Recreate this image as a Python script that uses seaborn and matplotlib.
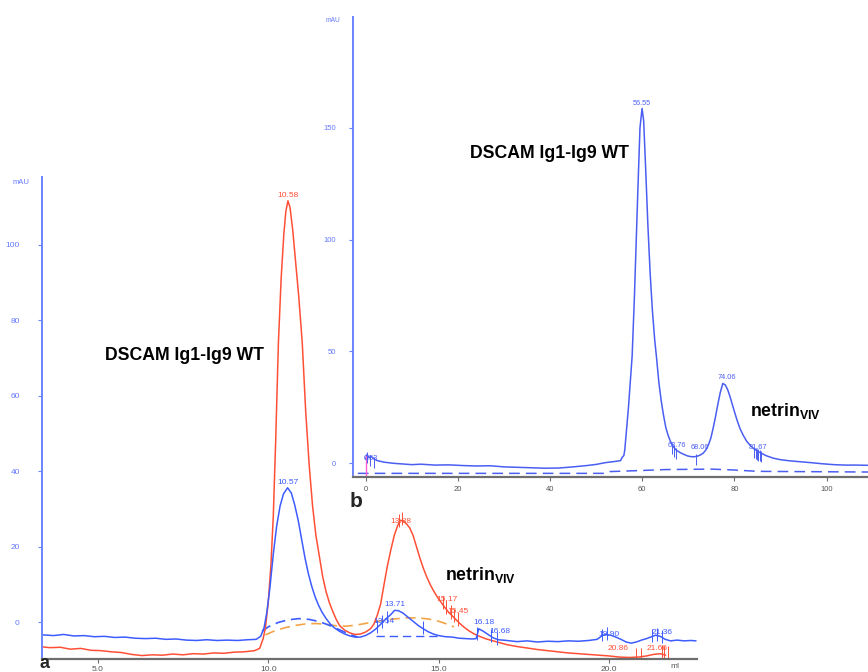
import numpy as np
import pandas as pd
import matplotlib
matplotlib.use("Agg")
import matplotlib.pyplot as plt
import seaborn as sns

# ---------------------------------------------------------------- data
# Panel a: Superdex elution, x = elution volume (ml), y = A280 (mAU)
red_ml = [3.37, 3.6, 3.9, 4.2, 4.5, 4.8, 5.1, 5.4, 5.7, 6.0, 6.3, 6.6, 6.9, 7.2,
          7.5, 7.8, 8.1, 8.4, 8.7, 9.0, 9.3, 9.6, 9.75, 9.85, 9.92, 10.0, 10.08,
          10.15, 10.22, 10.3, 10.38, 10.46, 10.52, 10.58, 10.64, 10.72, 10.8,
          10.9, 11.0, 11.1, 11.2, 11.3, 11.4, 11.5, 11.6, 11.7, 11.8, 11.9, 12.0,
          12.1, 12.25, 12.4, 12.55, 12.7, 12.85, 13.0, 13.1, 13.2, 13.3, 13.4,
          13.5, 13.6, 13.7, 13.8, 13.88, 13.97, 14.06, 14.15, 14.25, 14.35,
          14.45, 14.55, 14.65, 14.75, 14.85, 14.95, 15.05, 15.17, 15.3, 15.45,
          15.6, 15.75, 15.9, 16.05, 16.2, 16.4, 16.6, 16.8, 17.0, 17.3, 17.6,
          17.9, 18.2, 18.5, 18.8, 19.1, 19.4, 19.7, 20.0, 20.3, 20.6, 20.86,
          21.1, 21.3, 21.5, 21.66]
red_mau = [-6.6, -6.8, -6.7, -7.2, -7.0, -7.5, -7.6, -7.9, -8.1, -8.6, -8.9,
           -8.7, -8.8, -8.5, -8.7, -8.4, -8.5, -8.2, -8.3, -8.0, -7.9, -7.6,
           -7.0, -4.5, -1.5, 5.0, 15.0, 28.0, 48.0, 74.0, 91.0, 103.0, 109.0,
           111.7, 110.0, 104.0, 96.0, 86.0, 74.0, 56.0, 42.0, 31.0, 23.0, 17.5,
           12.0, 8.0, 5.0, 2.7, 0.6, -1.0, -2.2, -2.9, -3.3, -3.2, -2.7, -1.8,
           -0.6, 1.8, 4.8, 10.0, 15.0, 19.2, 23.0, 25.6, 27.0, 26.7, 26.0, 25.0,
           23.0, 20.0, 17.0, 14.3, 12.0, 10.0, 8.3, 6.8, 5.5, 4.0, 2.5, 1.2,
           -0.2, -1.4, -2.4, -3.2, -3.8, -4.5, -5.0, -5.5, -6.0, -6.5, -6.9,
           -7.3, -7.6, -7.9, -8.2, -8.4, -8.6, -8.8, -9.0, -9.3, -9.4, -9.3,
           -9.0, -8.6, -8.4, -8.8]

blue_ml = [3.37, 3.7, 4.0, 4.3, 4.6, 4.9, 5.2, 5.5, 5.8, 6.1, 6.4, 6.7, 7.0,
           7.3, 7.6, 7.9, 8.2, 8.5, 8.8, 9.1, 9.4, 9.65, 9.78, 9.88, 9.96,
           10.05, 10.15, 10.25, 10.35, 10.45, 10.57, 10.68, 10.78, 10.88,
           10.98, 11.08, 11.18, 11.28, 11.38, 11.48, 11.58, 11.7, 11.82, 11.95,
           12.1, 12.25, 12.4, 12.55, 12.7, 12.85, 13.0, 13.15, 13.3, 13.45,
           13.6, 13.71, 13.82, 13.95, 14.1, 14.25, 14.4, 14.55, 14.7, 14.85,
           15.0, 15.2, 15.4, 15.6, 15.8, 16.0, 16.1, 16.18, 16.3, 16.45, 16.6,
           16.75, 17.0, 17.3, 17.6, 17.9, 18.2, 18.5, 18.8, 19.1, 19.4, 19.65,
           19.8, 19.9, 20.05, 20.2, 20.35, 20.5, 20.65, 20.8, 20.95, 21.1,
           21.25, 21.36, 21.5, 21.65, 21.8, 22.0, 22.2, 22.4, 22.55]
blue_mau = [-3.4, -3.6, -3.3, -3.7, -3.6, -3.9, -3.8, -4.1, -4.0, -4.3, -4.4,
            -4.3, -4.6, -4.5, -4.8, -4.9, -4.7, -4.9, -4.8, -4.9, -4.7, -4.6,
            -3.8, -1.5, 2.5, 9.0, 18.0, 25.5, 30.8, 34.0, 35.6, 34.2, 31.0,
            27.0, 22.0, 17.0, 12.8, 9.4, 6.6, 4.4, 2.6, 0.9, -0.5, -1.6, -2.5,
            -3.2, -3.7, -4.0, -4.0, -3.6, -2.9, -1.9, -0.6, 0.8, 2.0, 3.1, 3.0,
            2.4, 1.3, 0.2, -0.9, -1.8, -2.6, -3.2, -3.6, -3.9, -4.0, -4.3, -4.4,
            -4.5, -4.4, -1.8, -2.4, -3.3, -4.2, -4.7, -4.9, -5.2, -5.0, -5.3,
            -5.1, -5.2, -5.0, -5.1, -4.9, -4.6, -3.6, -3.3, -3.5, -4.0, -4.6,
            -5.3, -5.6, -5.3, -4.8, -4.4, -3.9, -3.5, -3.8, -4.6, -5.0, -4.8,
            -5.0, -4.9, -5.0]

# integration baselines (dashed)
orange_base_ml = [9.92, 10.2, 10.5, 10.8, 11.1, 11.4, 11.7, 12.0, 12.3, 12.6,
                  12.9, 13.2, 13.5, 13.8, 14.1, 14.4, 14.7, 15.0, 15.2, 15.45]
orange_base_mau = [-3.4, -2.3, -1.5, -0.9, -0.5, -0.4, -0.6, -1.0, -1.1, -0.8,
                   -0.3, 0.2, 0.6, 0.9, 1.1, 1.1, 0.8, 0.2, -0.4, -1.3]
blue_base1_ml = [9.82, 10.0, 10.3, 10.6, 10.9, 11.2, 11.5, 11.8, 12.1, 12.4, 12.62]
blue_base1_mau = [-2.5, -1.3, -0.1, 0.6, 0.9, 0.7, 0.1, -0.9, -2.1, -3.3, -4.0]
blue_base2_ml = [13.15, 14.95]
blue_base2_mau = [-3.6, -3.6]

# peak table labels
red_peaks = [10.58, 13.88, 15.17, 15.45, 20.86, 21.66]
blue_peaks = [10.57, 13.54, 13.71, 16.18, 16.68, 19.90, 21.36]
# fraction marks
red_marks = [13.84, 13.93, 15.12, 15.22, 15.36, 15.46, 15.56, 20.80, 20.95,
             21.55, 21.62, 21.72]
blue_marks = [13.2, 13.34, 13.48, 14.55, 16.13, 16.55, 16.72, 19.78, 19.95,
              21.25, 21.42, 21.55]

a_yticks = [0, 20, 40, 60, 80, 100]
a_xticks = [5.0, 10.0, 15.0, 20.0]

# Panel b: preparative run, x = elution volume (ml), y = A280 (mAU)
b_ml = [-3.4, -3.1, -2.7, -2.2, -1.6, -0.9, 0.6, 2.6, 4.6, 6.6, 8.6, 11.6,
        14.6, 17.6, 20.6, 23.6, 26.6, 29.6, 32.6, 35.6, 38.6, 41.6, 44.6,
        46.6, 48.6, 50.6, 51.9, 52.2, 52.6, 52.8, 53.6, 54.4, 54.9, 55.4,
        55.8, 56.1, 56.55, 56.9, 57.4, 57.8, 58.3, 58.8, 59.3, 59.7, 60.2,
        60.7, 61.2, 61.7, 62.2, 62.7, 63.3, 64.0, 64.8, 65.6, 66.4, 67.1,
        67.7, 68.4, 69.1, 69.8, 70.4, 71.0, 71.5, 72.0, 72.5, 73.0, 73.5,
        74.06, 74.6, 75.1, 75.6, 76.1, 76.6, 77.2, 77.8, 78.5, 79.2, 80.0,
        80.8, 81.6, 82.6, 83.6, 85.0, 86.6, 88.6, 90.8, 93.1, 95.6, 98.1,
        100.6, 103.1, 105.6]
b_mau = [2.0, 4.0, 2.5, 3.0, 2.0, 1.2, 0.5, 0.0, -0.3, -0.6, -0.4, -0.8, -0.7,
         -1.0, -1.2, -1.1, -1.6, -1.8, -2.0, -2.2, -2.1, -1.6, -1.0, -0.5, 0.3,
         0.8, 1.2, 2.6, 3.5, 6.0, 25.0, 48.0, 75.0, 107.0, 132.0, 150.0, 158.6,
         153.0, 128.0, 107.0, 85.0, 68.0, 55.0, 47.0, 36.0, 28.0, 21.5, 16.0,
         12.5, 9.8, 7.5, 5.8, 4.8, 4.0, 3.3, 3.0, 2.9, 3.1, 3.6, 4.5, 6.0, 8.5,
         11.5, 16.0, 21.0, 26.5, 31.5, 35.7, 35.0, 33.0, 30.0, 26.5, 23.0,
         19.0, 15.5, 12.5, 10.0, 8.0, 6.5, 5.4, 4.3, 3.3, 2.3, 1.6, 1.1, 0.7,
         0.3, -0.2, -0.6, -0.8, -0.8, -0.9]
b_base_ml = [-5.1, 48.6, 49.6, 56.6, 61.6, 71.6, 76.6, 81.6, 105.6]
b_base_mau = [-4.5, -4.5, -3.7, -3.2, -2.8, -2.6, -3.0, -3.6, -3.9]
b_peaks = [0.53, 56.55, 63.76, 68.06, 74.06, 81.67]
b_marks = [-3.1, -2.5, -1.6, 63.1, 63.5, 63.9, 68.2, 80.9, 81.2, 81.5, 81.8,
           82.1, 82.4]
b_yticks = [0, 50, 100, 150]
b_xticks = [0, 20, 40, 60, 80, 100]
DEAD_VOL = 3.4          # ml between injection mark and peak-table volumes
inject_at = 0.0         # injection mark on the run axis
inject_top = 3.7

# ---------------------------------------------------------------- style
sns.set_theme(style="white")
plt.rcParams["font.family"] = ["Liberation Sans", "DejaVu Sans"]
plt.rcParams["mathtext.fontset"] = "custom"
plt.rcParams["mathtext.rm"] = "Liberation Sans"
plt.rcParams["mathtext.bf"] = "Liberation Sans:bold"
plt.rcParams["mathtext.it"] = "Liberation Sans:italic"

RED = "#ff5036"
BLUE = "#3d5cff"
ORANGE = "#f4a448"
BLUE_B = "#4a5ef2"
SPINE_BLUE = "#6a84ff"
TICK_BLUE = "#6478ff"
GRAY = "#6e6e6e"
PINK = "#ff5fd0"

W, H = 868, 672
fig = plt.figure(figsize=(W / 100, H / 100), dpi=100)
fig.patch.set_facecolor("white")


def box(x0, y0, x1, y1):
    return [x0 / W, 1 - y1 / H, (x1 - x0) / W, (y1 - y0) / H]


def fx(px):
    return px / W


def fy(py):
    return 1 - py / H


ax_a = fig.add_axes(box(42, 176.7, 697, 659))
ax_b = fig.add_axes(box(352.7, 16.7, 868, 476.7))
ax_b.set_zorder(3)
ax_b.set_facecolor("white")
ax_a.set_facecolor("none")


def style_axes(ax, ylabel_pad, xlabel_pad, fs):
    for s in ("top", "right"):
        ax.spines[s].set_visible(False)
    ax.spines["left"].set_color(SPINE_BLUE)
    ax.spines["left"].set_linewidth(1.4)
    ax.spines["bottom"].set_color(GRAY)
    ax.spines["bottom"].set_linewidth(1.6)
    ax.tick_params(axis="y", direction="out", length=3, width=0.8,
                   color=SPINE_BLUE, labelcolor=TICK_BLUE, labelsize=fs,
                   pad=ylabel_pad, left=True)
    ax.tick_params(axis="x", direction="out", length=3, width=0.8,
                   color=GRAY, labelcolor="#555555", labelsize=fs,
                   pad=xlabel_pad, bottom=True)
    ax.grid(False)
    ax.set_xlabel("")
    ax.set_ylabel("")


# ---------------------------------------------------------------- panel a
def line(ax, x, y, color, lw=1.1, ls="-"):
    sns.lineplot(x=x, y=y, ax=ax, color=color, linewidth=lw, linestyle=ls,
                 estimator=None, sort=False)


line(ax_a, orange_base_ml, orange_base_mau, ORANGE, lw=1.2, ls=(0, (6, 3.5)))
line(ax_a, blue_base1_ml, blue_base1_mau, BLUE, lw=1.2, ls=(0, (6, 3.5)))
line(ax_a, blue_base2_ml, blue_base2_mau, BLUE, lw=1.0, ls=(0, (6, 3.5)))
line(ax_a, red_ml, red_mau, RED, lw=1.1)
line(ax_a, blue_ml, blue_mau, BLUE, lw=1.1)

for m in red_marks:
    yv = np.interp(m, red_ml, red_mau)
    ax_a.vlines(m, yv - 1.2, yv + 2.4, color=RED, lw=0.7)
for m in blue_marks:
    yv = np.interp(m, blue_ml, blue_mau)
    ax_a.vlines(m, yv - 1.4, yv + 2.0, color=BLUE, lw=0.7)

red_offsets = [(0, 5), (0, -1), (3, 7), (4, 6), (-20, 9), (-9, 7)]
blue_offsets = [(0, 5), (-5, -5), (0, 6), (5, 6), (4, 7), (3, 0), (7, 3)]
for v, (dx, dy) in zip(red_peaks, red_offsets):
    ax_a.annotate(f"{v:.2f}", xy=(v, np.interp(v, red_ml, red_mau)),
                  xytext=(dx, dy), textcoords="offset pixels",
                  ha="center", va="center", fontsize=6, color=RED)
for v, (dx, dy) in zip(blue_peaks, blue_offsets):
    ax_a.annotate(f"{v:.2f}", xy=(v, np.interp(v, blue_ml, blue_mau)),
                  xytext=(dx, dy), textcoords="offset pixels",
                  ha="center", va="center", fontsize=6, color=BLUE)

ax_a.set_xlim(3.365, 22.58)
ax_a.set_ylim(-9.81, 118.1)
ax_a.set_yticks(a_yticks)
ax_a.set_xticks(a_xticks)
ax_a.set_xticklabels([f"{t:.1f}" for t in a_xticks])
style_axes(ax_a, ylabel_pad=13, xlabel_pad=2, fs=6)

# ---------------------------------------------------------------- panel b
b_run = [v + DEAD_VOL for v in b_ml]
b_base_run = [v + DEAD_VOL for v in b_base_ml]
line(ax_b, b_base_run, b_base_mau, BLUE_B, lw=1.1, ls=(0, (7, 4)))
line(ax_b, b_run, b_mau, BLUE_B, lw=1.1)
ax_b.vlines(inject_at, -6, inject_top, color=PINK, lw=1.0)

for m in b_marks:
    yv = np.interp(m, b_ml, b_mau)
    ax_b.vlines(m + DEAD_VOL, yv - 4.0, yv + 1.0, color=BLUE_B, lw=0.7)

b_offsets = [(-13, 4), (0, 5), (2, 4), (5, 9), (4, 6), (0, 4)]
for v, (dx, dy) in zip(b_peaks, b_offsets):
    ax_b.annotate(f"{v:.2f}", xy=(v + DEAD_VOL, np.interp(v, b_ml, b_mau)),
                  xytext=(dx, dy), textcoords="offset pixels",
                  ha="center", va="center", fontsize=5.3, color=BLUE_B)

ax_b.set_xlim(-2.82, 108.96)
ax_b.set_ylim(-5.99, 199.6)
ax_b.set_yticks(b_yticks)
ax_b.set_xticks(b_xticks)
style_axes(ax_b, ylabel_pad=9, xlabel_pad=4, fs=5.5)

# ---------------------------------------------------------------- text
fig.text(fx(13), fy(183), "mAU", fontsize=5.5, color=TICK_BLUE,
         ha="left", va="center")
fig.text(fx(326), fy(20), "mAU", fontsize=4.8, color=TICK_BLUE,
         ha="left", va="center")
fig.text(fx(670), fy(667), "ml", fontsize=6, color="#555555",
         ha="left", va="center")

title_kw = dict(fontsize=12.7, fontweight="bold", color="black", va="center",
                ha="left")
fig.text(fx(105), fy(355), "DSCAM Ig1-Ig9 WT", **title_kw)
fig.text(fx(470), fy(153), "DSCAM Ig1-Ig9 WT", **title_kw)
fig.text(fx(445), fy(575), r"$\mathbf{netrin}_{\mathbf{VIV}}$", **title_kw)
fig.text(fx(750), fy(411), r"$\mathbf{netrin}_{\mathbf{VIV}}$", **title_kw)

fig.text(fx(39), fy(671.5), "a", fontsize=13, fontweight="bold",
         ha="left", va="bottom")
fig.text(fx(350), fy(507), "b", fontsize=15, fontweight="bold",
         ha="left", va="baseline")

fig.savefig("out.png", dpi=100, facecolor="white")
